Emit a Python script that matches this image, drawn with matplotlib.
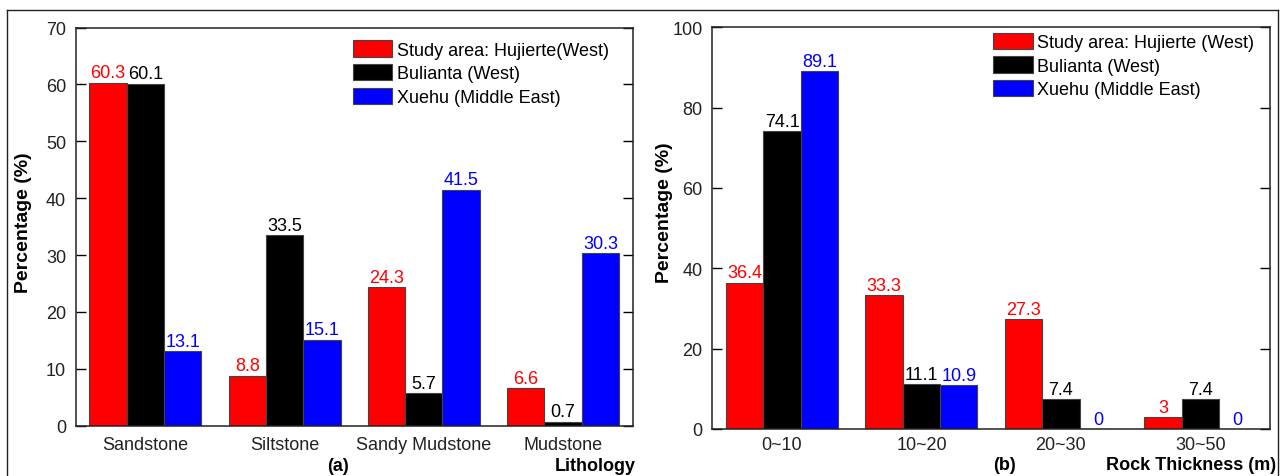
import matplotlib
matplotlib.use("Agg")
import matplotlib.pyplot as plt
import numpy as np
from matplotlib.lines import Line2D

plt.rcParams['font.family'] = ['Liberation Sans', 'DejaVu Sans']

# ---- data ----
lith_cats = ["Sandstone", "Siltstone", "Sandy Mudstone", "Mudstone"]
lith_hujierte = [60.3, 8.8, 24.3, 6.6]
lith_bulianta = [60.1, 33.5, 5.7, 0.7]
lith_xuehu = [13.1, 15.1, 41.5, 30.3]

thick_cats = ["0~10", "10~20", "20~30", "30~50"]
thick_hujierte = [36.4, 33.3, 27.3, 3]
thick_bulianta = [74.1, 11.1, 7.4, 7.4]
thick_xuehu = [89.1, 10.9, 0, 0]

labels_a = ["Study area: Hujierte(West)", "Bulianta (West)", "Xuehu (Middle East)"]
labels_b = ["Study area: Hujierte (West)", "Bulianta (West)", "Xuehu (Middle East)"]
colors = ["#ff0000", "#000000", "#0000ff"]

W, H = 1281, 477
fig = plt.figure(figsize=(W / 100, H / 100), dpi=100)

ax1 = fig.add_axes([75.7 / W, (H - 426.7) / H, 557 / W, 398.2 / H])
ax2 = fig.add_axes([712.3 / W, (H - 430) / H, 557.7 / W, 401.7 / H])

FS = 13
bw = 0.268


def draw(ax, cats, series, labels, ymax, yticks, xpad, leg_anchor):
    x = np.arange(len(cats))
    for i, (vals, c, lab) in enumerate(zip(series, colors, labels)):
        bars = ax.bar(x + (i - 1) * bw, vals, width=bw, color=c,
                      edgecolor="#444444", linewidth=0.8, label=lab)
        ax.bar_label(bars, labels=[("%g" % v) for v in vals], padding=1,
                     color=c, fontsize=FS)
    ax.set_xlim(-0.5, 3.5)
    ax.set_ylim(0, ymax)
    ax.set_yticks(yticks)
    ax.set_xticks(x)
    ax.set_xticklabels(cats, fontsize=FS, color="#222222")
    ax.tick_params(axis="x", length=0, pad=xpad)
    ax.tick_params(axis="y", direction="in", length=7, width=1.0,
                   labelsize=FS, labelcolor="#222222", pad=7,
                   left=True, right=True)
    for s in ax.spines.values():
        s.set_linewidth(1.1)
        s.set_color("#222222")
    ax.legend(loc="upper left", bbox_to_anchor=leg_anchor, frameon=False,
              fontsize=FS, borderpad=0, handlelength=2.17, handleheight=1.0,
              handletextpad=0.25, labelspacing=0.3, borderaxespad=0)


draw(ax1, lith_cats, [lith_hujierte, lith_bulianta, lith_xuehu], labels_a,
     70, range(0, 71, 10), 7.6, (0.4984, 0.9676))
draw(ax2, thick_cats, [thick_hujierte, thick_bulianta, thick_xuehu], labels_b,
     100, range(0, 101, 20), 4.8, (0.5039, 0.9866))

ax1.set_ylabel("Percentage (%)", fontsize=14, fontweight="bold", va="center")
ax1.yaxis.set_label_coords(-0.0937, 0.5115)
ax2.set_ylabel("Percentage (%)", fontsize=14, fontweight="bold", va="center")
ax2.yaxis.set_label_coords(-0.0866, 0.540)

fig.text(338 / W, (H - 467) / H, "(a)", fontsize=FS, fontweight="bold",
         ha="center", va="center")
fig.text(636 / W, (H - 467) / H, "Lithology", fontsize=FS, fontweight="bold",
         ha="right", va="center")
fig.text(1004.7 / W, (H - 466) / H, "(b)", fontsize=FS, fontweight="bold",
         ha="center", va="center")
fig.text(1276 / W, (H - 466) / H, "Rock Thickness (m)", fontsize=FS,
         fontweight="bold", ha="right", va="center")

# outer frame lines
ytop = (H - 11) / H
xl, xr = 6.7 / W, 1277.5 / W
fig.add_artist(Line2D([xl, xr], [ytop, ytop], transform=fig.transFigure,
                      color="#222222", linewidth=1.0))
fig.add_artist(Line2D([xl, xl], [0, ytop], transform=fig.transFigure,
                      color="#222222", linewidth=1.0))
fig.add_artist(Line2D([xr, xr], [0, ytop], transform=fig.transFigure,
                      color="#222222", linewidth=1.0))

fig.savefig("out.png", dpi=100)
